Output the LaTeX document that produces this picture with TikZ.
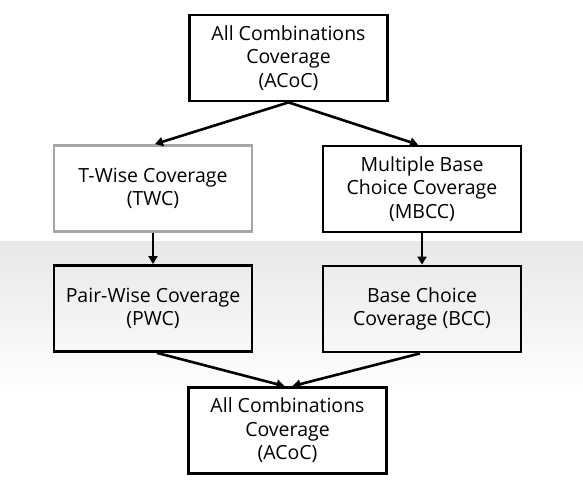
\documentclass[tikz,border=0pt]{standalone}
\usepackage{fontspec}
\setmainfont{Open Sans}
\usepackage{tikz}
\usetikzlibrary{arrows.meta}
\definecolor{bandgray}{HTML}{E8E8EA}
\definecolor{boxgray}{HTML}{A6A6A6}

\begin{document}
\begin{tikzpicture}[
    x=1pt, y=-1pt,
    cov/.style={
      draw, line width=2.8pt, align=center, fill=white,
      minimum width=198pt, minimum height=86pt, inner sep=2pt,
      font=\fontsize{19.5}{23.5}\selectfont
    },
    flow/.style={line width=2.6pt, -{Triangle[length=8pt,width=9pt]}},
  ]
    \useasboundingbox (0,0) rectangle (583,494);
    \fill[white] (0,0) rectangle (583,494);
    \fill[top color=bandgray, bottom color=white] (0,242) rectangle (583,395);

    \node[cov] (acoctop) at (288.5,58) {All Combinations\\Coverage\\(ACoC)};
    \node[cov, draw=boxgray] (twc) at (153,188.5) {T-Wise Coverage\\(TWC)};
    \node[cov] (mbcc) at (422,189) {Multiple Base\\Choice Coverage\\(MBCC)};
    \node[cov, fill=none] (pwc) at (153,308.5) {Pair-Wise Coverage\\(PWC)};
    \node[cov, fill=none] (bcc) at (422,309) {Base Choice\\Coverage (BCC)};
    \node[cov] (acocbot) at (287.5,430.5) {All Combinations\\Coverage\\(ACoC)};

    \draw[flow] (acoctop.south) -- ([xshift=2pt]twc.north);
    \draw[flow] (acoctop.south) -- ([xshift=-4pt]mbcc.north);
    \draw[flow] (twc.south) -- (pwc.north);
    \draw[flow] (mbcc.south) -- (bcc.north);
    \draw[flow] ([xshift=4pt]pwc.south) -- ([xshift=-3pt]acocbot.north);
    \draw[flow] ([xshift=-2pt]bcc.south) -- ([xshift=5pt]acocbot.north);
  \end{tikzpicture}
\end{document}
